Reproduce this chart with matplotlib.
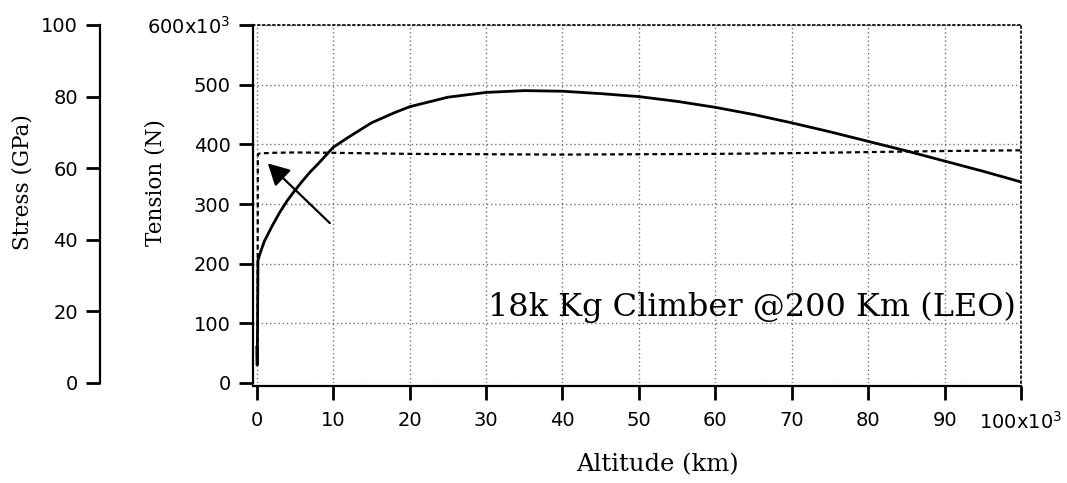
import matplotlib
matplotlib.use("Agg")
import matplotlib.pyplot as plt
from matplotlib.ticker import FixedLocator, FuncFormatter

# Solid curve: tension (x10^3 N) vs altitude (km)
alt_tension = [0.0, 0.05, 0.1, 0.15, 0.5, 1.0, 2.0, 3.0, 4.0, 5.0, 6.0, 7.0, 8.0,
               10.0, 12.0, 15.0, 18.0, 20.0, 25.0, 30.0, 35.0, 40.0, 45.0, 50.0,
               55.0, 60.0, 65.0, 70.0, 75.0, 80.0, 85.0, 90.0, 95.0, 100.0]
tension_k = [60, 30, 100, 206, 220, 238, 263, 286, 306, 323, 339, 354, 367,
             395, 412, 436, 453, 463, 479, 487, 490, 489, 485, 480,
             472, 462, 450, 436, 421, 405, 389, 372, 355, 337]

# Dashed curve: stress (GPa) vs altitude (km)
alt_stress = [0.1, 0.13, 0.3, 2.0, 5.0, 10.0, 20.0, 30.0, 40.0, 50.0, 60.0,
              70.0, 80.0, 90.0, 100.0]
stress_gpa = [9.0, 63.8, 64.1, 64.3, 64.4, 64.3, 64.0, 63.9, 63.8, 63.9, 64.0,
              64.2, 64.5, 64.8, 65.0]

x_ticks = [0, 10, 20, 30, 40, 50, 60, 70, 80, 90, 100]
tension_ticks = [0, 100, 200, 300, 400, 500, 600]
stress_ticks = [0, 20, 40, 60, 80, 100]

fig = plt.figure(figsize=(10.67, 4.83), dpi=100)
ax = fig.add_axes([253/1067, 100/483, 768/1067, 358/483])

ax.plot(alt_tension, tension_k, color="black", lw=2.0, zorder=4)
ax.set_xlim(-0.5, 100)
ax.set_ylim(0, 600)

sans = "DejaVu Sans"
serif = "DejaVu Serif"

def fmt_x(v, pos):
    return r"100x10$^{3}$" if abs(v - 100) < 1e-6 else f"{int(v)}"

def fmt_y(v, pos):
    return r"600x10$^{3}$" if abs(v - 600) < 1e-6 else f"{int(v)}"

ax.xaxis.set_major_locator(FixedLocator(x_ticks))
ax.yaxis.set_major_locator(FixedLocator(tension_ticks))
ax.xaxis.set_major_formatter(FuncFormatter(fmt_x))
ax.yaxis.set_major_formatter(FuncFormatter(fmt_y))
ax.tick_params(axis="both", length=10, width=2, labelsize=14, direction="out", pad=6)
ax.tick_params(axis="x", pad=8)
for lab in ax.get_xticklabels() + ax.get_yticklabels():
    lab.set_family(sans)

ax.grid(True, color="0.45", linestyle=(0, (1, 2)), lw=1.0)
ax.set_axisbelow(True)

ax.spines["left"].set_linewidth(1.6)
ax.spines["bottom"].set_linewidth(1.6)
ax.spines["bottom"].set_position(("outward", 2))
for s in ["top", "right"]:
    ax.spines[s].set_linestyle((0, (1, 2)))
    ax.spines[s].set_linewidth(1.2)
    ax.spines[s].set_color("black")

ax.set_xlabel("Altitude (km)", family=serif, fontsize=17.5)
ax.xaxis.set_label_coords(0.527, -0.196)
ax.set_ylabel("Tension (N)", family=serif, fontsize=15.5)
ax.yaxis.set_label_coords(-0.112, 0.56)

# Stress axis
ax2 = ax.twinx()
ax2.plot(alt_stress, stress_gpa, color="black", lw=1.6, linestyle=(0, (2.2, 1.6)), zorder=3)
ax2.set_ylim(0, 100)
ax2.yaxis.tick_left()
ax2.yaxis.set_label_position("left")
ax2.spines["right"].set_visible(False)
ax2.spines["top"].set_visible(False)
ax2.spines["bottom"].set_visible(False)
ax2.spines["left"].set_position(("outward", 110))
ax2.spines["left"].set_linewidth(1.6)
ax2.yaxis.set_major_locator(FixedLocator(stress_ticks))
ax2.tick_params(axis="y", length=10, width=2, labelsize=14, pad=6)
for lab in ax2.get_yticklabels():
    lab.set_family(sans)
ax2.set_ylabel("Stress (GPa)", family=serif, fontsize=15.5)
ax2.yaxis.set_label_coords(-0.286, 0.56)

ax.annotate("", xy=(1.44, 368), xytext=(9.55, 268),
            arrowprops=dict(arrowstyle="-|>,head_length=1.3,head_width=0.7",
                            color="black", lw=1.6, shrinkA=0, shrinkB=0), zorder=5)

ax.text(0.65, 0.212, "18k Kg Climber @200 Km (LEO)", transform=ax.transAxes,
        family=serif, fontsize=23, ha="center", va="center", zorder=6)

fig.savefig("out.png", dpi=100)
